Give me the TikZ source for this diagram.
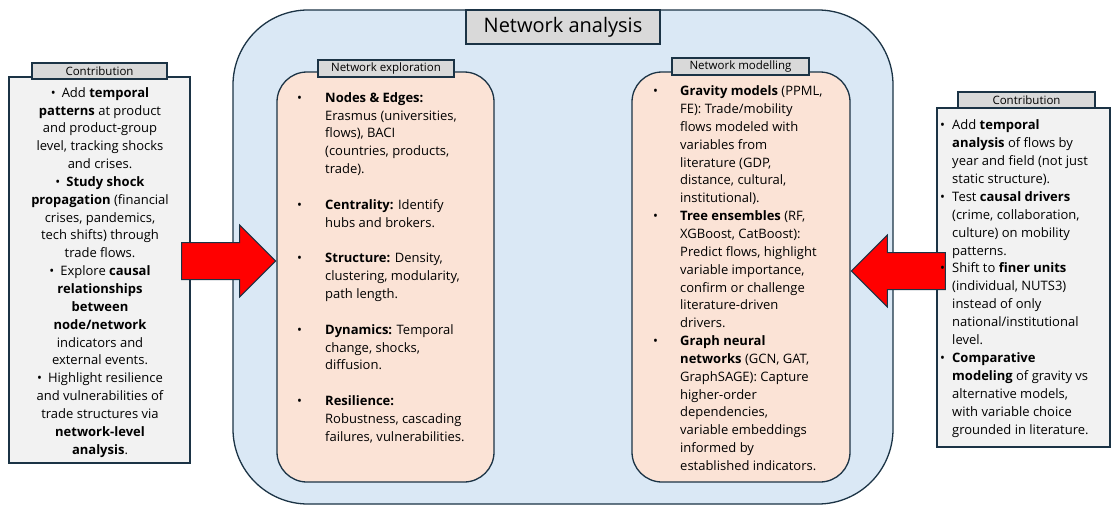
\documentclass[tikz,border=0pt]{standalone}
\usepackage{fontspec}
\setmainfont{Open Sans}
\usetikzlibrary{shapes.arrows}

\definecolor{panelblue}{HTML}{DAE8F5}
\definecolor{peach}{HTML}{FBE3D6}
\definecolor{tagfill}{HTML}{D9D9D9}
\definecolor{contribfill}{HTML}{F2F2F2}
\definecolor{edge}{HTML}{1B3345}

\tikzset{
  panel/.style={draw=edge, line width=1.3pt, inner sep=0pt},
  tag/.style={draw=edge, line width=1.1pt, fill=tagfill, inner sep=0pt,
    font=\fontsize{11.5}{13}\selectfont},
  bigarrow/.style={single arrow, draw=edge, line width=1pt, fill=red,
    inner xsep=0pt, inner ysep=18pt, minimum height=94pt,
    single arrow head extend=17.5pt},
  bodytext/.style={inner sep=0pt, anchor=north west,
    font=\fontsize{13}{17.85}\selectfont},
}

\begin{document}
\begin{tikzpicture}[x=1pt, y=-1pt]
  \useasboundingbox (0,0) rectangle (1113,506);

  % big panel and the two inner panels
  \node[panel, fill=panelblue, rounded corners=75pt, minimum width=660pt, minimum height=494pt] (analysis) at (563,257) {};
  \node[panel, fill=peach, rounded corners=30pt, minimum width=217pt, minimum height=410pt] (explore) at (385.5,277) {};
  \node[panel, fill=peach, rounded corners=30pt, minimum width=218pt, minimum height=410pt] (model) at (741,277) {};

  \node[tag, minimum width=194pt, minimum height=34pt, font=\fontsize{20}{24}\selectfont] (title) at (563,27) {Network analysis};
  \node[tag, minimum width=136pt, minimum height=17pt] (exploretag) at (386,68.5) {Network exploration};
  \node[tag, minimum width=137pt, minimum height=17pt] (modeltag) at (740.5,66.5) {Network modelling};

  % contribution boxes
  \node[panel, fill=contribfill, minimum width=181pt, minimum height=386pt] (contribL) at (99.5,270) {};
  \node[panel, fill=contribfill, minimum width=173pt, minimum height=339pt] (contribR) at (1023.5,277.5) {};
  \node[tag, minimum width=135pt, minimum height=16pt] (contribLtag) at (99.5,71) {Contribution};
  \node[tag, minimum width=137pt, minimum height=16pt] (contribRtag) at (1026.5,100) {Contribution};

  % block arrows into the panels
  \node[bigarrow, anchor=tip] (arrowL) at ([yshift=16pt]explore.west) {};
  \node[bigarrow, shape border rotate=180, anchor=tip] (arrowR) at ([yshift=6pt]model.east) {};

  % texts
  \node[bodytext, anchor=north] (contribLtext) at (100,84.5) {\begin{tabular}{@{}c@{}}
    \textbullet\hspace{6pt}Add \textbf{temporal}\\
    \textbf{patterns} at product\\
    and product-group\\
    level, tracking shocks\\
    and crises.\\
    \textbullet\hspace{6pt}\textbf{Study shock}\\
    \textbf{propagation} (financial\\
    crises, pandemics,\\
    tech shifts) through\\
    trade flows.\\
    \textbullet\hspace{6pt}Explore \textbf{causal}\\
    \textbf{relationships}\\
    \textbf{between}\\
    \textbf{node/network}\\
    indicators and\\
    external events.\\
    \textbullet\hspace{6pt}Highlight resilience\\
    and vulnerabilities of\\
    trade structures via\\
    \textbf{network-level}\\
    \textbf{analysis}.
  \end{tabular}};

  \node[bodytext] (exploretext) at (297,89.5) {\begin{tabular}{@{}p{28pt}@{}l@{}}
    \textbullet & \textbf{Nodes \& Edges:}\\
    & Erasmus (universities,\\
    & flows), BACI\\
    & (countries, products,\\
    & trade).\\
    & \\
    \textbullet & \textbf{Centrality:} Identify\\
    & hubs and brokers.\\
    & \\
    \textbullet & \textbf{Structure:} Density,\\
    & clustering, modularity,\\
    & path length.\\
    & \\
    \textbullet & \textbf{Dynamics:} Temporal\\
    & change, shocks,\\
    & diffusion.\\
    & \\
    \textbullet & \textbf{Resilience:}\\
    & Robustness, cascading\\
    & failures, vulnerabilities.
  \end{tabular}};

  \node[bodytext] (modeltext) at (653,83) {\begin{tabular}{@{}p{27pt}@{}l@{}}
    \textbullet & \textbf{Gravity models} (PPML,\\
    & FE): Trade/mobility\\
    & flows modeled with\\
    & variables from\\
    & literature (GDP,\\
    & distance, cultural,\\
    & institutional).\\
    \textbullet & \textbf{Tree ensembles} (RF,\\
    & XGBoost, CatBoost):\\
    & Predict flows, highlight\\
    & variable importance,\\
    & confirm or challenge\\
    & literature-driven\\
    & drivers.\\
    \textbullet & \textbf{Graph neural}\\
    & \textbf{networks} (GCN, GAT,\\
    & GraphSAGE): Capture\\
    & higher-order\\
    & dependencies,\\
    & variable embeddings\\
    & informed by\\
    & established indicators.
  \end{tabular}};

  \node[bodytext, font=\fontsize{13}{17.9}\selectfont] (contribRtext) at (940,117) {\begin{tabular}{@{}p{12pt}@{}l@{}}
    \textbullet & Add \textbf{temporal}\\
    & \textbf{analysis} of flows by\\
    & year and field (not just\\
    & static structure).\\
    \textbullet & Test \textbf{causal drivers}\\
    & (crime, collaboration,\\
    & culture) on mobility\\
    & patterns.\\
    \textbullet & Shift to \textbf{finer units}\\
    & (individual, NUTS3)\\
    & instead of only\\
    & national/institutional\\
    & level.\\
    \textbullet & \textbf{Comparative}\\
    & \textbf{modeling} of gravity vs\\
    & alternative models,\\
    & with variable choice\\
    & grounded in literature.
  \end{tabular}};
\end{tikzpicture}
\end{document}
